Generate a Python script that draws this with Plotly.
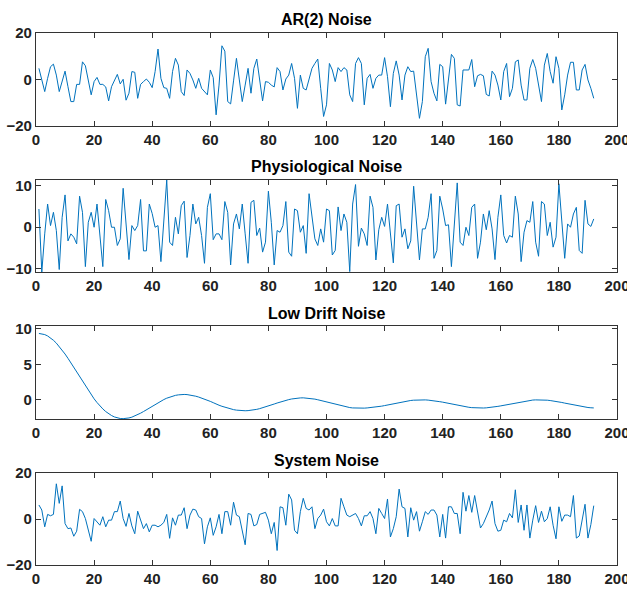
import plotly.graph_objects as go

x_idx = list(range(1, 193))

ar2_noise = [
    4.8, -0.2, -5.2, 0.5, 5.5, 6.6, 1.9, -5.2, -0.2, 3.6,
    -3.1, -9.5, -9.5, -2.1, -2.1, 7.6, 5.9, -0.6, -6.6, -0.9,
    0.9, -2.1, -2.1, -3.2, -9.2, -3.1, -0.2, 2.2, -1.9, 0.1,
    -8.9, -5.9, 3.4, 3.1, -8.1, -2.1, -0.9, 0.2, -1.2, -3.5,
    3.4, 13.1, 0.5, -3.5, -3.8, -8.1, 3.4, 9.1, 6.2, -5.2,
    -6.9, 4.1, 2.6, -0.2, -3.8, 0.5, -3.8, -5.2, -6.6, 4.1,
    0.8, -15.2, -2.4, 14.5, 12.2, -9.5, -10.5, -0.6, 9.1, -0.2,
    -9.5, -2.4, 4.8, -5.9, 4.8, 8.8, 0.5, -9.2, -0.9, -1.2,
    -2.4, -3.2, 5.1, 3.4, -4.5, 0.2, 1.9, 6.9, 0.5, -12.4,
    1.9, -3.8, -4.5, 0.5, 4.8, 6.9, 8.8, -3.8, -15.9, -10.9,
    6.9, 4.1, -0.9, 5.1, 3.4, 5.1, 4.1, -6.6, -9.5, 6.9,
    9.4, 6.9, -10.9, 0.5, 2.2, -3.8, 0.5, 1.9, 1.9, 9.4,
    1.2, -11.7, 2.6, 8.0, 1.9, -8.8, 1.9, 5.5, 3.4, 3.6,
    -6.6, -16.7, -9.5, 9.8, 13.4, -0.9, -5.9, -9.2, 6.5, 5.5,
    -10.6, -0.9, 10.8, 9.1, -10.9, -11.4, 4.1, 4.1, 4.1, 8.6,
    -3.1, 1.6, 2.2, 1.6, -6.4, -7.1, 3.6, 1.9, -2.4, -8.8,
    3.4, 6.9, -7.4, -3.8, 7.6, 8.4, -2.4, -8.8, -8.8, 4.8,
    8.6, 4.8, -2.4, -9.5, 6.2, 11.2, 3.4, -1.6, 9.8, 4.8,
    -13.1, -6.6, 1.9, 7.4, 7.4, -4.5, -4.5, 4.1, 6.5, -0.2,
    -3.8, -8.1,
]

physio_noise = [
    4.4, -10.8, -1.6, 5.6, 0.4, 3.6, -0.8, -10.2, 2.4, 7.8,
    -3.3, -1.6, -2.4, -4.0, 7.5, 3.6, -9.5, 1.2, 3.6, 0.0,
    5.6, -2.4, -9.5, 6.7, 4.0, 0.0, 0.0, -4.4, -2.8, 9.4,
    1.6, -7.8, 0.4, -0.8, 0.4, 6.7, -5.7, -5.7, 5.6, 3.3,
    0.0, 0.4, -8.3, 1.6, 11.4, -3.6, -4.4, 2.4, -1.6, 5.2,
    6.3, -7.3, -2.0, 5.6, 0.8, 2.4, -2.0, -8.7, 4.8, 8.1,
    -3.0, -1.6, -1.6, -3.0, 6.2, 3.6, -9.1, 0.8, 3.2, -0.4,
    5.6, -1.6, -8.7, 6.0, 6.5, -2.0, -0.2, -6.0, -3.6, 8.7,
    1.2, -9.1, -0.8, -1.2, 0.4, 6.2, -6.0, -7.0, 4.4, 4.0,
    -1.2, 0.4, -6.3, 8.1, 2.4, -2.8, -4.4, -0.4, -3.6, 4.4,
    4.0, -6.7, -5.6, 4.9, -0.8, 3.2, 1.2, -10.7, 5.6, 10.3,
    -4.6, -0.2, -1.6, -4.4, 7.5, 4.8, -7.9, -0.6, 2.4, 0.2,
    5.6, -0.8, -8.6, 5.2, 5.6, -2.4, -0.4, -5.2, -3.3, 9.9,
    0.8, -7.9, -0.4, -0.4, 2.4, 8.1, -7.5, -5.6, 7.5, 4.4,
    0.4, 0.6, -9.5, 0.8, 10.7, -3.6, -4.4, 0.0, -2.0, 4.8,
    5.6, -7.5, -3.6, 3.2, -0.6, 4.0, -0.4, -7.8, 2.4, 7.8,
    -2.0, -3.8, -2.0, -2.4, 7.5, 3.2, -8.3, -1.2, 1.6, 1.2,
    6.2, -3.6, -7.0, 6.2, 5.6, -2.0, 1.2, -4.8, -2.4, 10.5,
    0.8, -7.5, 0.8, 0.0, 3.2, 4.8, -5.6, -6.3, 6.5, 0.8,
    0.2, 2.0,
]

drift_noise = [
    9.35, 9.31, 9.19, 9.00, 8.73, 8.39, 7.99, 7.52, 7.01, 6.45,
    5.85, 5.22, 4.57, 3.91, 3.24, 2.58, 1.93, 1.30, 0.71, 0.14,
    -0.38, -0.86, -1.28, -1.65, -1.96, -2.21, -2.41, -2.55, -2.63, -2.65,
    -2.63, -2.55, -2.44, -2.28, -2.10, -1.88, -1.65, -1.40, -1.15, -0.89,
    -0.64, -0.40, -0.17, 0.04, 0.23, 0.39, 0.53, 0.63, 0.70, 0.75,
    0.76, 0.74, 0.69, 0.61, 0.51, 0.39, 0.26, 0.11, -0.05, -0.22,
    -0.40, -0.61, -0.76, -0.91, -1.04, -1.17, -1.28, -1.38, -1.45, -1.51,
    -1.54, -1.54, -1.52, -1.48, -1.42, -1.34, -1.24, -1.13, -1.00, -0.87,
    -0.73, -0.59, -0.45, -0.31, -0.19, -0.07, 0.03, 0.12, 0.19, 0.24,
    0.27, 0.28, 0.26, 0.23, 0.17, 0.10, 0.01, -0.09, -0.20, -0.31,
    -0.43, -0.54, -0.66, -0.76, -0.86, -0.95, -1.03, -1.09, -1.14, -1.17,
    -1.18, -1.18, -1.17, -1.14, -1.11, -1.07, -1.02, -0.96, -0.89, -0.81,
    -0.72, -0.63, -0.54, -0.45, -0.37, -0.29, -0.21, -0.15, -0.09, -0.05,
    -0.02, 0.00, 0.00, -0.01, -0.04, -0.07, -0.12, -0.18, -0.26, -0.33,
    -0.42, -0.50, -0.59, -0.68, -0.77, -0.85, -0.93, -1.00, -1.05, -1.10,
    -1.13, -1.15, -1.16, -1.15, -1.13, -1.10, -1.05, -0.99, -0.92, -0.85,
    -0.77, -0.68, -0.59, -0.50, -0.41, -0.33, -0.25, -0.18, -0.12, -0.07,
    -0.03, -0.01, 0.00, 0.00, -0.02, -0.05, -0.10, -0.15, -0.22, -0.29,
    -0.37, -0.46, -0.55, -0.64, -0.73, -0.81, -0.89, -0.96, -1.02, -1.08,
    -1.12, -1.14,
]

system_noise = [
    6.1, 3.9, -3.4, 2.0, 1.4, 2.0, 15.3, 6.8, 14.4, -2.0,
    -4.2, -3.9, -7.5, -5.3, 4.2, 3.2, 0.2, -4.9, -9.7, 0.2,
    -1.5, -2.7, 1.0, -3.4, -0.5, -0.5, 3.2, 3.2, 7.8, 0.2,
    -3.2, 2.4, -3.0, -6.4, 3.4, -0.5, -4.2, -2.0, -5.6, -2.7,
    -2.7, -3.4, -2.7, -1.5, 2.0, -8.4, 0.5, -2.7, 1.7, 1.7,
    4.9, -4.2, 1.7, 4.3, 3.9, 1.0, 0.2, -10.8, -3.4, 0.5,
    -7.1, -3.4, 2.0, -6.4, 3.2, 3.2, -2.7, 7.3, 1.7, 1.0,
    -4.9, -11.2, 2.4, 2.0, -3.0, -2.4, 2.0, 2.4, 2.9, -0.5,
    -6.4, -1.5, -13.7, 5.3, 4.9, -2.7, 10.8, 8.3, -4.9, -6.4,
    3.2, 9.0, 4.6, 3.9, 5.3, -4.2, 0.2, 1.7, 4.3, -1.2,
    -3.0, 0.2, -3.0, -3.0, 9.0, 5.3, 1.7, 1.0, 1.7, 2.4,
    0.2, -3.0, 1.4, 1.4, 3.2, 0.2, -6.4, 4.6, 2.4, 0.2,
    8.7, -7.8, -4.2, 1.0, 13.0, 5.3, 4.6, -7.8, 4.9, -0.5,
    3.2, -5.3, -1.2, 3.2, 2.0, 3.9, 3.9, 1.7, -7.8, 2.0,
    -8.3, 5.3, 5.3, 2.4, 2.4, -6.4, 11.6, 3.4, 10.2, 2.9,
    10.2, 3.9, -3.9, -2.0, 1.0, 3.9, 7.8, -2.0, -5.3, -4.9,
    -0.5, -1.2, 2.4, 0.5, 12.7, -1.5, 6.1, -4.9, 6.1, -8.3,
    -0.5, 5.8, -1.5, 3.4, -1.2, 0.2, 5.3, -2.7, -8.6, 5.3,
    -1.0, 1.7, 1.7, 1.0, 10.2, -8.3, -7.4, 0.2, 6.4, -8.3,
    -2.4, 5.8,
]

titles = ["AR(2) Noise", "Physiological Noise", "Low Drift Noise", "System Noise"]
x_ticks = [0, 20, 40, 60, 80, 100, 120, 140, 160, 180, 200]
y_ticks = [[-20, 0, 20], [-10, 0, 10], [0, 5, 10], [-20, 0, 20]]
y_ranges = [[-20, 20], [-10.8, 11.4], [-2.7, 10.4], [-20, 20]]

W, H = 627, 590
LEFT, RIGHT = 36, 617
tops = [33, 180, 326, 473]
bottoms = [126, 272, 419, 565]
title_centers = [19, 166, 313, 460]

FONT = "Liberation Sans, Arial, sans-serif"
AXC = "#333333"
LINEC = "#0072BD"

series = [ar2_noise, physio_noise, drift_noise, system_noise]

fig = go.Figure()
annotations = []
for i, s in enumerate(series):
    sfx = "" if i == 0 else str(i + 1)
    fig.add_trace(go.Scatter(
        x=x_idx, y=s, mode="lines",
        line=dict(color=LINEC, width=1),
        xaxis="x" + sfx, yaxis="y" + sfx,
        showlegend=False, hoverinfo="skip",
    ))
    common = dict(
        automargin=False,
        showline=True, linecolor=AXC, linewidth=1.2, mirror="ticks",
        ticks="inside", ticklen=5, tickwidth=1, tickcolor=AXC,
        showgrid=False, zeroline=False, ticklabeloverflow="allow",
        tickfont=dict(family=FONT, size=15, color="#222222", weight="bold"),
    )
    fig.layout["xaxis" + sfx] = dict(
        domain=[LEFT / W, RIGHT / W], anchor="y" + sfx,
        range=[0, 200], tickvals=x_ticks, **common,
    )
    fig.layout["yaxis" + sfx] = dict(
        domain=[1 - bottoms[i] / H, 1 - tops[i] / H], anchor="x" + sfx,
        range=y_ranges[i], tickvals=y_ticks[i], **common,
    )
    annotations.append(dict(
        text=titles[i], x=(LEFT + RIGHT) / 2 / W, y=1 - title_centers[i] / H,
        xref="paper", yref="paper", xanchor="center", yanchor="middle",
        showarrow=False,
        font=dict(family=FONT, size=16, color="#000000", weight="bold"),
    ))

fig.update_layout(
    template="none",
    width=W, height=H,
    margin=dict(l=0, r=0, t=0, b=0, autoexpand=False),
    paper_bgcolor="white", plot_bgcolor="white",
    annotations=annotations,
    showlegend=False,
)

fig.write_html("out.html")
